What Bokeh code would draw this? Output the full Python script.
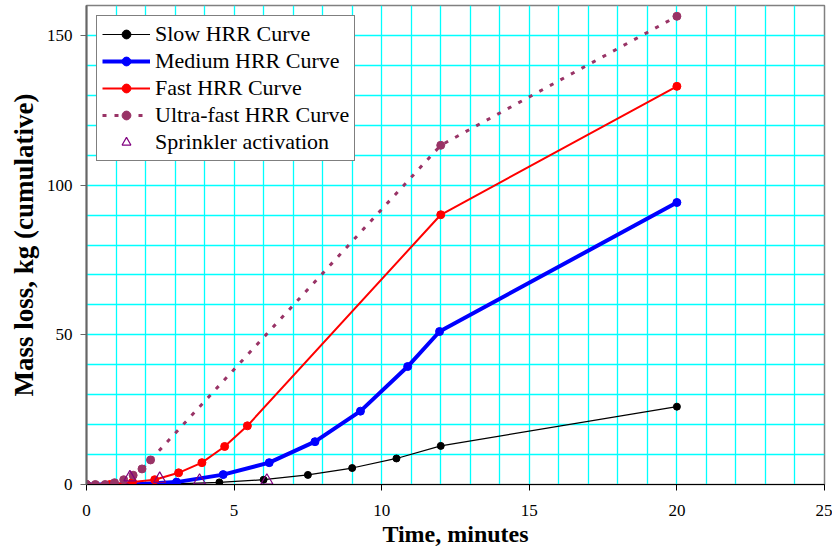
from bokeh.plotting import figure
from bokeh.models import Range1d, SingleIntervalTicker, FixedTicker, Legend, LegendItem
from bokeh.embed import file_html
from bokeh.resources import INLINE

# Data
slow_t = [0, 1.5, 3.0, 4.5, 6.0, 7.5, 9.0, 10.5, 12.0, 20.0]
slow_m = [0, 0, 0.2, 0.7, 1.6, 3.2, 5.5, 8.7, 12.9, 26.0]

medium_t = [0, 1.55, 3.05, 4.63, 6.19, 7.74, 9.28, 10.88, 11.96, 20.0]
medium_m = [0, 0, 0.8, 3.3, 7.3, 14.3, 24.5, 39.4, 51.1, 94.2]

fast_t = [0, 0.79, 1.56, 2.31, 3.12, 3.91, 4.68, 5.45, 12.0, 20.0]
fast_m = [0, 0, 0.8, 1.6, 3.9, 7.3, 12.7, 19.6, 90.1, 133.0]

ultra_t = [0, 0.3, 0.63, 0.95, 1.26, 1.58, 1.88, 2.17, 12.0, 20.0]
ultra_m = [0, 0, 0, 0.6, 1.6, 3.1, 5.2, 8.2, 113.3, 156.4]

sprinkler_t = [1.47, 2.48, 3.83, 6.11]
sprinkler_m = [2.4, 1.9, 1.3, 1.3]

x_major = [0, 5, 10, 15, 20, 25]
y_major = [0, 50, 100, 150]

x_title = "Time, minutes"
y_title = "Mass loss, kg (cumulative)"

FONT = "Liberation Serif"

p = figure(width=832, height=552, output_backend="svg", toolbar_location=None,
           x_range=Range1d(0, 25), y_range=Range1d(0, 160),
           min_border_left=86, min_border_right=8, min_border_top=5,
           min_border_bottom=68)
p.background_fill_color = "white"
p.border_fill_color = "white"
p.outline_line_color = "#808080"
p.outline_line_width = 1.5

# grids
p.xgrid.ticker = SingleIntervalTicker(interval=1)
p.ygrid.ticker = SingleIntervalTicker(interval=10)
for g in (p.xgrid, p.ygrid):
    g.grid_line_color = "#00FFFF"
    g.grid_line_width = 1.3
    g.grid_line_alpha = 1.0

# axes
p.xaxis.ticker = FixedTicker(ticks=x_major)
p.yaxis.ticker = FixedTicker(ticks=y_major)
for ax in (p.xaxis, p.yaxis):
    ax.major_label_text_font = FONT
    ax.major_label_text_font_size = "17px"
    ax.major_label_text_color = "black"
    ax.axis_label_text_font = FONT
    ax.axis_label_text_font_style = "bold"
    ax.axis_label_text_color = "black"
    ax.minor_tick_line_color = None
    ax.major_tick_in = 0
    ax.major_tick_out = 6
p.xaxis.axis_label = x_title
p.yaxis.axis_label = y_title
p.xaxis.axis_label_text_font_size = "24px"
p.yaxis.axis_label_text_font_size = "27px"
p.xaxis.axis_line_color = "black"
p.xaxis.major_tick_line_color = "black"
p.yaxis.axis_line_color = "#666666"
p.yaxis.axis_line_width = 2
p.yaxis.major_tick_line_color = "#666666"
p.xaxis.major_label_standoff = 14
p.xaxis.axis_label_standoff = 2
p.yaxis.major_label_standoff = 8
p.yaxis.axis_label_standoff = 5

# series
sl = p.line(slow_t, slow_m, line_color="black", line_width=1.2)
sc = p.scatter(slow_t, slow_m, marker="circle", size=7, fill_color="black", line_color="black")

ml = p.line(medium_t, medium_m, line_color="#0000FF", line_width=4)
mc = p.scatter(medium_t, medium_m, marker="circle", size=8, fill_color="#0000FF", line_color="#0000FF")

fl = p.line(fast_t, fast_m, line_color="#FF0000", line_width=2)
fc = p.scatter(fast_t, fast_m, marker="circle", size=8, fill_color="#FF0000", line_color="#FF0000")

ul = p.line(ultra_t, ultra_m, line_color="#993366", line_width=3, line_dash="4 8")
uc = p.scatter(ultra_t, ultra_m, marker="circle", size=8, fill_color="#993366", line_color="#993366")

st = p.scatter(sprinkler_t, sprinkler_m, marker="triangle", size=12, fill_color=None,
               line_color="#800080", line_width=1.2)

legend = Legend(items=[
    LegendItem(label="Slow HRR Curve", renderers=[sl, sc]),
    LegendItem(label="Medium HRR Curve", renderers=[ml, mc]),
    LegendItem(label="Fast HRR Curve", renderers=[fl, fc]),
    LegendItem(label="Ultra-fast HRR Curve", renderers=[ul, uc]),
    LegendItem(label="Sprinkler activation", renderers=[st]),
], location="top_left")
legend.label_text_font = FONT
legend.label_text_font_size = "22px"
legend.label_text_color = "black"
legend.border_line_color = "black"
legend.border_line_width = 1.2
legend.background_fill_color = "white"
legend.background_fill_alpha = 1.0
legend.margin = 10
legend.padding = 5
legend.spacing = 1
legend.glyph_width = 48
legend.glyph_height = 22
legend.label_height = 22
legend.label_standoff = 5
p.add_layout(legend, "center")

open("out.html", "w").write(file_html(p, INLINE))
